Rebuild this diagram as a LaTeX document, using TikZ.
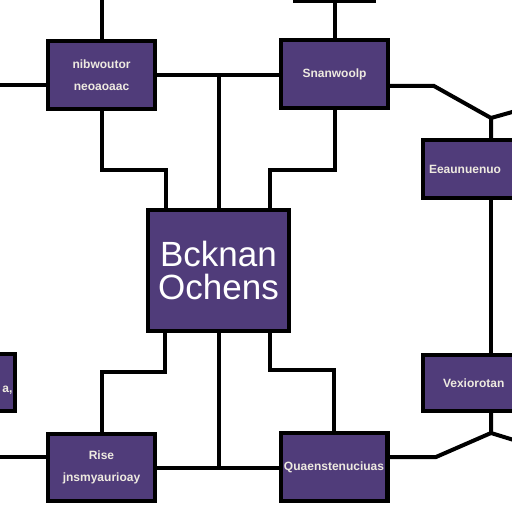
\documentclass[tikz,border=0pt]{standalone}
\usepackage{fontspec}
\setmainfont{Liberation Sans}
\definecolor{boxfill}{RGB}{80,60,122}
\definecolor{boxtext}{RGB}{238,234,224}

\begin{document}
\begin{tikzpicture}[x=0.5pt,y=-0.5pt,line width=2pt,
  block/.style={draw, shape=rectangle, fill=boxfill, text=boxtext, line width=2.2pt, inner sep=1pt, align=center, font=\bfseries\fontsize{6}{11}\selectfont},
  small/.style={block, minimum width=53.3pt, minimum height=34pt}]
\useasboundingbox (0,0) rectangle (512,512);
\clip (0,0) rectangle (512,512);
\fill[white] (0,0) rectangle (512,512);
\draw (218.5,270.5) node[block, minimum width=70.3pt, minimum height=60.3pt, text=white, font=\fontsize{17.5}{16.5}\selectfont] (C) {Bcknan\\Ochens};
\draw (101.5,75) node[small] (TL) {nibwoutor\\neoaoaac};
\draw (334.5,74) node[small] (TR) {Snanwoolp};
\draw (334.5,-30) node[block, minimum width=39.3pt, minimum height=31pt] (TX) {};
\draw (491,169) node[block, minimum width=66.8pt, minimum height=28.8pt, text width=62pt, align=left, inner sep=3pt] (RM) {Eeaunuenuo};
\draw (491,383) node[block, minimum width=66.8pt, minimum height=27.8pt, text width=62pt, align=left, inner sep=3pt] (RB) {\hspace*{7pt}Vexiorotan};
\draw (-21.5,382.5) node[block, minimum width=36.3pt, minimum height=28.3pt, text width=34pt, align=right] (LP) {\\a,};
\draw (101.5,467.5) node[small, minimum height=33.3pt] (BL) {Rise\\jnsmyaurioay};
\draw (334,467) node[small] (BR) {Quaenstenuciuas};
% free ends
\coordinate (topL) at (101.5,0);
\coordinate (leftTL) at (0,85);
\coordinate (leftBL) at (0,457);
\coordinate (cTL) at (166,170);
\coordinate (cTR) at (270,170);
\coordinate (cBL) at (165,372);
\coordinate (cBR) at (270,370);
\coordinate (eTR) at (434,86);
\coordinate (jT) at (491,118);
\coordinate (outT) at (530,107);
\coordinate (eBR) at (436,457);
\coordinate (jB) at (491,433);
\coordinate (outB) at (530,445);
\draw (TL.north) -- (topL);
\draw (leftTL) -- (leftTL -| TL.west);
\draw (TL.east) -- (TL.east -| TR.west);
\draw (C.north) -- (C.north |- TL.east);
\draw (TL.south) |- (cTL) -- (cTL |- C.north);
\draw (TR.south) |- (cTR) -- (cTR |- C.north);
\draw (TR.north) -- (TX.south);
\draw (eTR -| TR.east) -- (eTR) -- (jT) -- (RM.north);
\draw (jT) -- (outT);
\draw (RM.south) -- (RB.north);
\draw (cBL |- C.south) -- (cBL) -| (BL.north);
\draw (cBR |- C.south) -- (cBR) -| (BR.north);
\draw (C.south) -- (C.south |- BL.east);
\draw (BL.east) -- (BL.east -| BR.west);
\draw (leftBL) -- (leftBL -| BL.west);
\draw (eBR -| BR.east) -- (eBR) -- (jB) -- (RB.south);
\draw (jB) -- (outB);
\end{tikzpicture}
\end{document}
